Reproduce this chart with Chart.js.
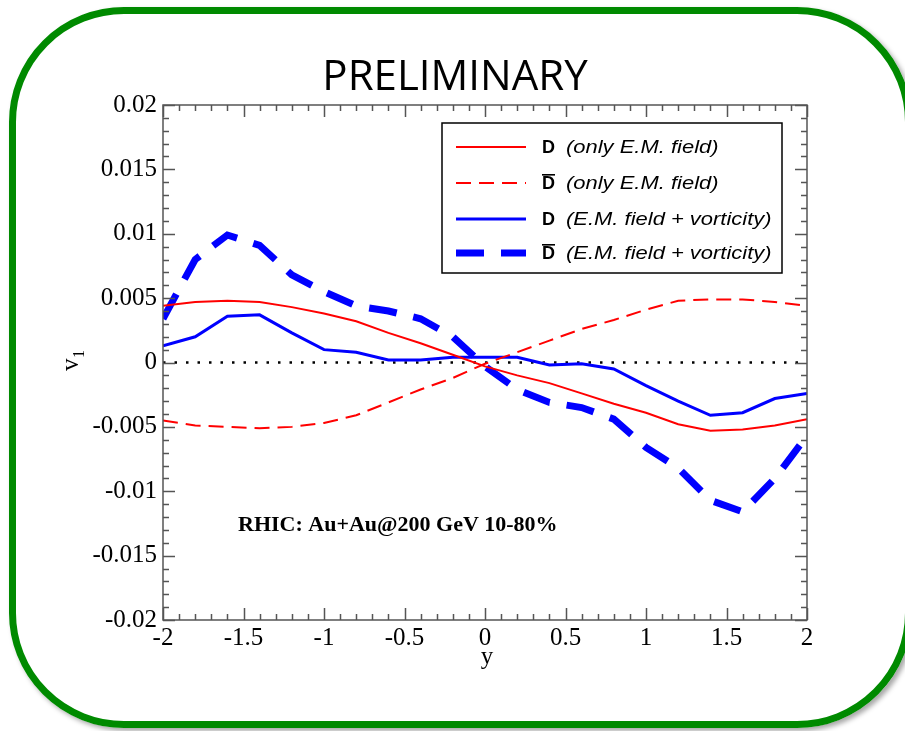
<!DOCTYPE html>
<html>
<head>
<meta charset="utf-8">
<script src="https://cdn.jsdelivr.net/npm/chart.js@4"></script>
<style>
  body { margin: 0; background: #fff; }
  #wrap { position: relative; width: 905px; height: 731px; overflow: hidden; }
  #frame {
    position: absolute; left: 9px; top: 7px; width: 889px; height: 707px;
    border: 7px solid #008a00; border-radius: 115px;
    box-shadow: 3px 3px 5px rgba(0,0,0,0.35);
  }
  canvas { position: absolute; left: 0; top: 0; }
</style>
</head>
<body>
<div id="wrap">
  <div id="frame"></div>
  <canvas id="v1Chart" width="905" height="731"></canvas>
</div>
<script>
// -------------------------
// DATA
// -------------------------
const rapidity = [-2, -1.8, -1.6, -1.4, -1.2, -1, -0.8, -0.6, -0.4, -0.2, 0,
                  0.2, 0.4, 0.6, 0.8, 1, 1.2, 1.4, 1.6, 1.8, 2];

const v1D_em = [0.0044, 0.0047, 0.0048, 0.0047, 0.0043, 0.0038, 0.0032, 0.0023, 0.0015, 0.0006, -0.0003,
                -0.0010, -0.0016, -0.0024, -0.0032, -0.0039, -0.0048, -0.0053, -0.0052, -0.0049, -0.0044];

const v1Dbar_em = [-0.0045, -0.0049, -0.0050, -0.0051, -0.0050, -0.0047, -0.0041, -0.0031, -0.0021, -0.0012, -0.0001,
                   0.0008, 0.0017, 0.0026, 0.0033, 0.0041, 0.0048, 0.0049, 0.0049, 0.0047, 0.0044];

const v1D_vort = [0.0013, 0.0020, 0.0036, 0.0037, 0.0023, 0.0010, 0.0008, 0.0002, 0.0002, 0.0004, 0.0004,
                  0.0004, -0.0002, -0.0001, -0.0005, -0.0018, -0.0030, -0.0041, -0.0039, -0.0028, -0.0024];

const v1Dbar_vort = [0.0034, 0.0080, 0.0099, 0.0091, 0.0068, 0.0055, 0.0044, 0.0040, 0.0034, 0.0020, -0.0003,
                     -0.0021, -0.0031, -0.0035, -0.0044, -0.0066, -0.0082, -0.0107, -0.0116, -0.0090, -0.0057];

const legendLabels = ["(only E.M. field)", "(only E.M. field)", "(E.M. field + vorticity)", "(E.M. field + vorticity)"];
const legendBar = [false, true, false, true];

const xMin = -2, xMax = 2, yMin = -0.02, yMax = 0.02;

function toPoints(values) {
    return rapidity.map((x, i) => ({ x: x, y: values[i] }));
}

// -------------------------
// EXTRA DRAWING (frame, inward ticks, legend, labels)
// -------------------------
const decorPlugin = {
    id: "decor",
    afterDraw(chart) {
        const ctx = chart.ctx;
        const area = chart.chartArea;
        const xs = chart.scales.x;
        const ys = chart.scales.y;

        ctx.save();
        ctx.strokeStyle = "#555";
        ctx.lineWidth = 1.5;
        ctx.strokeRect(area.left, area.top, area.right - area.left, area.bottom - area.top);

        // x ticks every 0.1, major every 0.5
        for (let i = 0; i <= 40; i++) {
            const px = Math.round(xs.getPixelForValue(xMin + i * 0.1)) + 0.5;
            const len = (i % 5 === 0) ? 12 : 6;
            ctx.beginPath();
            ctx.moveTo(px, area.bottom); ctx.lineTo(px, area.bottom - len);
            ctx.moveTo(px, area.top); ctx.lineTo(px, area.top + len);
            ctx.stroke();
        }
        // y ticks every 0.001, major every 0.005
        for (let i = 0; i <= 40; i++) {
            const py = Math.round(ys.getPixelForValue(yMin + i * 0.001)) + 0.5;
            const len = (i % 5 === 0) ? 12 : 6;
            ctx.beginPath();
            ctx.moveTo(area.left, py); ctx.lineTo(area.left + len, py);
            ctx.moveTo(area.right, py); ctx.lineTo(area.right - len, py);
            ctx.stroke();
        }

        // title
        ctx.fillStyle = "#000";
        ctx.font = "42px 'Open Sans'";
        ctx.textAlign = "center";
        ctx.textBaseline = "alphabetic";
        ctx.fillText("PRELIMINARY", 455, 90);

        // axis titles
        ctx.font = "25px 'Liberation Serif'";
        ctx.fillText("y", 487, 664);

        ctx.save();
        ctx.translate(78, 371);
        ctx.rotate(-Math.PI / 2);
        ctx.textAlign = "left";
        ctx.font = "25px 'Liberation Serif'";
        ctx.fillText("v", 0, 0);
        ctx.font = "16px 'Liberation Serif'";
        ctx.fillText("1", 13, 6);
        ctx.restore();

        // annotation
        ctx.textAlign = "left";
        ctx.font = "bold 22px 'Liberation Serif'";
        ctx.fillText("RHIC: Au+Au@200 GeV 10-80%", 238, 531);

        // legend
        ctx.strokeStyle = "#000";
        ctx.lineWidth = 1.5;
        ctx.strokeRect(442, 123, 340, 150);
        const rowY = [147, 183, 219, 253];
        chart.data.datasets.slice(0, 4).forEach((ds, i) => {
            ctx.save();
            ctx.strokeStyle = ds.borderColor;
            ctx.lineWidth = ds.borderWidth;
            ctx.setLineDash(ds.borderDash || []);
            ctx.beginPath();
            ctx.moveTo(456, rowY[i]); ctx.lineTo(526, rowY[i]);
            ctx.stroke();
            ctx.restore();

            ctx.fillStyle = "#000";
            ctx.textBaseline = "middle";
            ctx.font = "bold 18px 'Liberation Sans'";
            ctx.fillText("D", 542, rowY[i] + 1);
            if (legendBar[i]) {
                ctx.fillRect(542, rowY[i] - 9, 13, 1.6);
            }
            ctx.save();
            ctx.translate(566, rowY[i] + 1);
            ctx.scale(1.22, 1);
            ctx.font = "italic 18px 'Liberation Sans'";
            ctx.fillText(legendLabels[i], 0, 0);
            ctx.restore();
        });
        ctx.restore();
    }
};

// -------------------------
// CHART
// -------------------------
const ctx = document.getElementById("v1Chart").getContext("2d");

new Chart(ctx, {
    type: "line",
    data: {
        datasets: [
            { label: "D (only E.M. field)", data: toPoints(v1D_em),
              borderColor: "#ff0000", borderWidth: 2, pointRadius: 0, fill: false },
            { label: "Dbar (only E.M. field)", data: toPoints(v1Dbar_em),
              borderColor: "#ff0000", borderWidth: 2, borderDash: [15, 8], pointRadius: 0, fill: false },
            { label: "D (E.M. field + vorticity)", data: toPoints(v1D_vort),
              borderColor: "#0000ff", borderWidth: 3, pointRadius: 0, fill: false },
            { label: "Dbar (E.M. field + vorticity)", data: toPoints(v1Dbar_vort),
              borderColor: "#0000ff", borderWidth: 7, borderDash: [28, 17], pointRadius: 0, fill: false },
            { label: "zero", data: [{ x: xMin, y: 0 }, { x: xMax, y: 0 }],
              borderColor: "#000", borderWidth: 2.5, borderDash: [2.5, 9], pointRadius: 0, fill: false }
        ]
    },
    options: {
        responsive: false,
        animation: false,
        devicePixelRatio: 1,
        layout: { padding: { top: 105, right: 98, left: 0, bottom: 0 } },
        plugins: { legend: { display: false }, tooltip: { enabled: false } },
        scales: {
            x: {
                type: "linear", min: xMin, max: xMax,
                grid: { display: false, drawTicks: false, tickLength: 0 }, border: { display: false },
                afterFit(scale) { scale.height = 111; },
                ticks: {
                    stepSize: 0.5, autoSkip: false, maxRotation: 0, padding: 3, color: "#000",
                    font: { family: "'Liberation Serif'", size: 25 },
                    callback: (v) => String(Number(v.toFixed(1)))
                }
            },
            y: {
                type: "linear", min: yMin, max: yMax,
                grid: { display: false, drawTicks: false, tickLength: 0 }, border: { display: false },
                afterFit(scale) { scale.width = 163; },
                ticks: {
                    stepSize: 0.005, autoSkip: false, padding: 6, color: "#000",
                    font: { family: "'Liberation Serif'", size: 25 },
                    callback: (v) => String(Number(v.toFixed(3)))
                }
            }
        }
    },
    plugins: [decorPlugin]
});
</script>
</body>
</html>
